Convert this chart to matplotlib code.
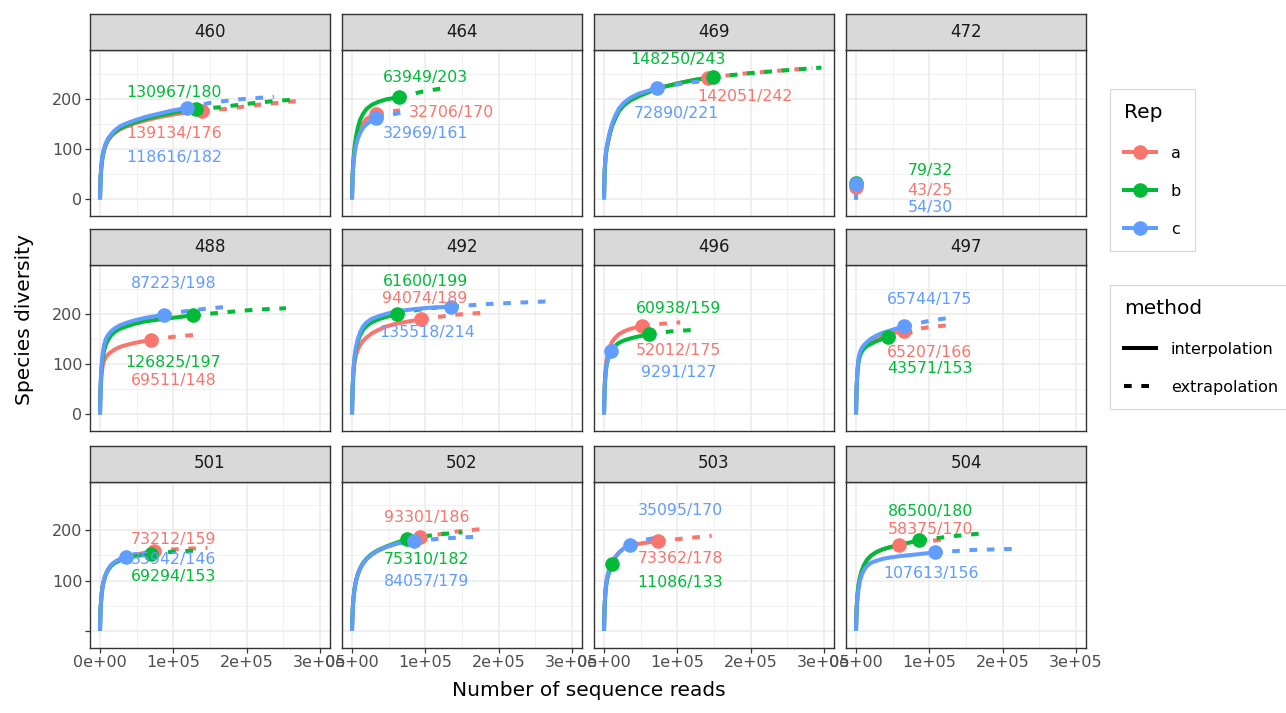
import matplotlib
matplotlib.use("Agg")
import matplotlib.pyplot as plt
from matplotlib.lines import Line2D

plt.rcParams['font.family'] = ['DejaVu Sans']

# ---------------- data ----------------
sites = ["460", "464", "469", "472", "488", "492", "496", "497", "501", "502", "503", "504"]
reps = ["a", "b", "c"]
rep_colors = ["#F8766D", "#00BA38", "#619CFF"]

reads_a = [139134, 32706, 142051, 43, 69511, 94074, 52012, 65207, 73212, 93301, 73362, 58375]
reads_b = [130967, 63949, 148250, 79, 126825, 61600, 60938, 43571, 69294, 75310, 11086, 86500]
reads_c = [118616, 32969, 72890, 54, 87223, 135518, 9291, 65744, 35942, 84057, 35095, 107613]
species_a = [176, 170, 242, 25, 148, 189, 175, 166, 159, 186, 178, 170]
species_b = [180, 203, 243, 32, 197, 199, 159, 153, 153, 182, 133, 180]
species_c = [182, 161, 221, 30, 198, 214, 127, 175, 146, 179, 170, 156]

# interpolated (rarefaction) curves: (reads, species)
interp_a = [
    ([0, 800, 2000, 3500, 5500, 8000, 11000, 15000, 20000, 27000, 36000, 47000, 62000, 82000, 105000, 139134],
     [0, 43, 67, 84, 97, 108, 117, 125, 132, 139, 145, 151, 157, 164, 170, 176]),
    ([0, 800, 2000, 3500, 5500, 8000, 11000, 15000, 20000, 26000, 32706],
     [0, 48, 76, 98, 115, 130, 142, 152, 160, 166, 170]),
    ([0, 800, 2000, 3500, 5500, 8000, 11000, 15000, 20000, 27000, 36000, 47000, 62000, 82000, 105000, 125000, 142051],
     [0, 53, 82, 100, 115, 131, 146, 160, 175, 187, 197, 205, 214, 224, 232, 238, 242]),
    ([0, 5, 15, 30, 43], [0, 5, 13, 20, 25]),
    ([0, 800, 2000, 3500, 5500, 8000, 11000, 15000, 20000, 27000, 36000, 47000, 58000, 69511],
     [0, 50, 78, 95, 107, 114, 119, 124, 129, 134, 138, 142, 145, 148]),
    ([0, 800, 2000, 3500, 5500, 8000, 11000, 15000, 20000, 27000, 36000, 47000, 62000, 78000, 94074],
     [0, 50, 82, 103, 118, 129, 138, 146, 153, 161, 168, 175, 181, 185, 189]),
    ([0, 800, 2000, 3500, 5500, 8000, 11000, 15000, 20000, 27000, 36000, 44000, 52012],
     [0, 55, 88, 108, 123, 135, 144, 152, 159, 165, 170, 173, 175]),
    ([0, 800, 2000, 3500, 5500, 8000, 11000, 15000, 20000, 27000, 36000, 47000, 56000, 65207],
     [0, 53, 87, 108, 120, 128, 134, 140, 145, 151, 156, 160, 163, 166]),
    ([0, 800, 2000, 3500, 5500, 8000, 11000, 15000, 20000, 27000, 36000, 47000, 60000, 73212],
     [0, 45, 70, 88, 102, 113, 122, 130, 136, 142, 147, 151, 155, 159]),
    ([0, 800, 2000, 3500, 5500, 8000, 11000, 15000, 20000, 27000, 36000, 47000, 62000, 78000, 93301],
     [0, 40, 65, 84, 100, 113, 124, 134, 143, 152, 160, 167, 174, 180, 186]),
    ([0, 800, 2000, 3500, 5500, 8000, 11000, 15000, 20000, 27000, 36000, 47000, 60000, 73362],
     [0, 50, 80, 100, 114, 125, 135, 146, 155, 164, 170, 173, 176, 178]),
    ([0, 800, 2000, 3500, 5500, 8000, 11000, 15000, 20000, 27000, 36000, 47000, 58375],
     [0, 45, 72, 92, 107, 120, 131, 141, 149, 156, 162, 166, 170]),
]
interp_b = [
    ([0, 800, 2000, 3500, 5500, 8000, 11000, 15000, 20000, 27000, 36000, 47000, 62000, 82000, 105000, 130967],
     [0, 44, 68, 85, 99, 110, 119, 127, 134, 141, 147, 153, 160, 167, 174, 180]),
    ([0, 800, 2000, 3500, 5500, 8000, 11000, 15000, 20000, 27000, 36000, 47000, 63949],
     [0, 50, 80, 105, 125, 143, 158, 170, 180, 188, 194, 199, 203]),
    ([0, 800, 2000, 3500, 5500, 8000, 11000, 15000, 20000, 27000, 36000, 47000, 62000, 82000, 105000, 125000, 148250],
     [0, 53, 82, 100, 115, 131, 146, 160, 175, 187, 197, 205, 214, 224, 232, 238, 243]),
    ([0, 5, 15, 40, 79], [0, 5, 13, 24, 32]),
    ([0, 800, 2000, 3500, 5500, 8000, 11000, 15000, 20000, 27000, 36000, 47000, 62000, 82000, 105000, 126825],
     [0, 55, 88, 110, 127, 139, 148, 157, 164, 170, 175, 180, 185, 189, 193, 197]),
    ([0, 800, 2000, 3500, 5500, 8000, 11000, 15000, 20000, 27000, 36000, 47000, 61600],
     [0, 53, 87, 111, 130, 145, 157, 168, 176, 183, 189, 194, 199]),
    ([0, 800, 2000, 3500, 5500, 8000, 11000, 15000, 20000, 27000, 36000, 47000, 60938],
     [0, 50, 80, 98, 110, 120, 128, 136, 142, 147, 151, 155, 159]),
    ([0, 800, 2000, 3500, 5500, 8000, 11000, 15000, 20000, 27000, 36000, 43571],
     [0, 52, 85, 105, 117, 125, 131, 136, 140, 145, 150, 153]),
    ([0, 800, 2000, 3500, 5500, 8000, 11000, 15000, 20000, 27000, 36000, 47000, 58000, 69294],
     [0, 45, 70, 88, 101, 112, 121, 129, 135, 140, 145, 148, 151, 153]),
    ([0, 800, 2000, 3500, 5500, 8000, 11000, 15000, 20000, 27000, 36000, 47000, 62000, 75310],
     [0, 40, 65, 84, 100, 113, 124, 135, 144, 153, 161, 168, 176, 182]),
    ([0, 800, 2000, 3500, 5500, 8000, 11086],
     [0, 48, 78, 97, 110, 121, 133]),
    ([0, 800, 2000, 3500, 5500, 8000, 11000, 15000, 20000, 27000, 36000, 47000, 62000, 86500],
     [0, 45, 72, 92, 107, 120, 131, 141, 149, 156, 162, 167, 172, 180]),
]
interp_c = [
    ([0, 800, 2000, 3500, 5500, 8000, 11000, 15000, 20000, 27000, 36000, 47000, 62000, 82000, 100000, 118616],
     [0, 45, 70, 88, 101, 112, 121, 129, 137, 145, 151, 157, 164, 171, 177, 182]),
    ([0, 800, 2000, 3500, 5500, 8000, 11000, 15000, 20000, 26000, 32969],
     [0, 45, 72, 92, 108, 121, 132, 142, 150, 156, 161]),
    ([0, 800, 2000, 3500, 5500, 8000, 11000, 15000, 20000, 27000, 36000, 47000, 60000, 72890],
     [0, 55, 85, 103, 118, 135, 150, 165, 180, 192, 202, 210, 216, 221]),
    ([0, 5, 15, 30, 54], [0, 5, 13, 21, 30]),
    ([0, 800, 2000, 3500, 5500, 8000, 11000, 15000, 20000, 27000, 36000, 47000, 62000, 87223],
     [0, 60, 95, 120, 138, 150, 158, 165, 171, 177, 182, 187, 192, 198]),
    ([0, 800, 2000, 3500, 5500, 8000, 11000, 15000, 20000, 27000, 36000, 47000, 62000, 83000, 105000, 135518],
     [0, 55, 90, 115, 135, 150, 163, 175, 183, 190, 195, 200, 205, 209, 212, 214]),
    ([0, 800, 2000, 3500, 5500, 7500, 9291],
     [0, 50, 80, 98, 110, 120, 127]),
    ([0, 800, 2000, 3500, 5500, 8000, 11000, 15000, 20000, 27000, 36000, 47000, 56000, 65744],
     [0, 55, 90, 112, 124, 132, 138, 144, 150, 156, 162, 167, 171, 175]),
    ([0, 800, 2000, 3500, 5500, 8000, 11000, 15000, 20000, 27000, 35942],
     [0, 45, 70, 88, 102, 113, 122, 131, 137, 143, 146]),
    ([0, 800, 2000, 3500, 5500, 8000, 11000, 15000, 20000, 27000, 36000, 47000, 62000, 84057],
     [0, 40, 65, 84, 100, 113, 124, 134, 143, 152, 160, 167, 174, 179]),
    ([0, 800, 2000, 3500, 5500, 8000, 11000, 15000, 20000, 27000, 35095],
     [0, 50, 80, 100, 114, 125, 135, 146, 155, 164, 170]),
    ([0, 800, 2000, 3500, 5500, 8000, 11000, 15000, 20000, 27000, 36000, 47000, 62000, 82000, 107613],
     [0, 40, 65, 84, 100, 112, 121, 129, 135, 139, 143, 146, 149, 152, 156]),
]

# extrapolated curves (observed reads up to twice the reads)
extrap_a = [
    ([139134, 173000, 209000, 250000, 278268], [176, 180, 187, 193, 197]),
    ([32706, 49000, 65412], [170, 174, 177]),
    ([142051, 190000, 240000, 284102], [242, 250, 256, 261]),
    ([43, 86], [25, 31]),
    ([69511, 104000, 139022], [148, 155, 159]),
    ([94074, 140000, 188148], [189, 198, 203]),
    ([52012, 78000, 104024], [175, 180, 183]),
    ([65207, 98000, 130414], [166, 173, 178]),
    ([73212, 110000, 146424], [159, 163, 165]),
    ([93301, 140000, 186602], [186, 197, 204]),
    ([73362, 110000, 146724], [178, 184, 189]),
    ([58375, 87000, 116750], [170, 177, 181]),
]
extrap_b = [
    ([130967, 163000, 200000, 241000, 261934], [180, 183, 190, 196, 198]),
    ([63949, 95000, 127898], [203, 214, 222]),
    ([148250, 200000, 250000, 296500], [243, 251, 257, 262]),
    ([79, 158], [32, 38]),
    ([126825, 170000, 210000, 253650], [197, 203, 208, 211]),
    ([61600, 90000, 123200], [199, 208, 214]),
    ([60938, 91000, 121876], [159, 165, 168]),
    ([43571, 65000, 87142], [153, 161, 166]),
    ([69294, 104000, 138588], [153, 158, 160]),
    ([75310, 112000, 150620], [182, 191, 196]),
    ([11086, 16600, 22172], [133, 143, 150]),
    ([86500, 130000, 173000], [180, 188, 194]),
]
extrap_c = [
    ([118616, 150000, 190000, 237232], [182, 192, 199, 204]),
    ([32969, 49000, 65938], [161, 167, 172]),
    ([72890, 110000, 145780], [221, 231, 237]),
    ([54, 108], [30, 36]),
    ([87223, 120000, 150000, 174446], [198, 206, 211, 214]),
    ([135518, 180000, 225000, 271036], [214, 219, 222, 225]),
    ([9291, 18582], [127, 140]),
    ([65744, 100000, 131488], [175, 186, 193]),
    ([35942, 54000, 71884], [146, 150, 153]),
    ([84057, 126000, 168114], [179, 184, 187]),
    ([35095, 52000, 70190], [170, 180, 185]),
    ([107613, 160000, 215226], [156, 161, 163]),
]

# label anchor positions (data units) for reps a, b, c
label_a = [(101400, 131), (136000, 173), (192900, 205), (100900, 18), (100000, 67), (99600, 231),
           (101400, 127), (100900, 124), (100000, 182), (101900, 225), (103700, 144), (101000, 201)]
label_b = [(101400, 213), (100500, 243), (101500, 279), (100900, 58), (100000, 104), (99600, 265),
           (101400, 211), (100900, 91), (100000, 109), (101900, 141), (103700, 97), (101000, 238)]
label_c = [(101400, 84), (99600, 131), (99200, 170), (100900, -16), (100000, 260), (101900, 163),
           (101400, 83), (100900, 229), (100000, 141), (101900, 99), (103700, 239), (102300, 114)]

x_ticks = [0, 100000, 200000, 300000]
x_tick_labels = ["0e+00", "1e+05", "2e+05", "3e+05"]
y_ticks = [0, 100, 200]

# ---------------- layout ----------------
W, H = 1286, 713
fig = plt.figure(figsize=(W / 100, H / 100), dpi=100)
col_left = [90, 342, 594, 846]
row_top = [50, 265, 481.5]
pw, ph, sh = 240, 166, 36


def fbox(l, t, w, h):
    return [l / W, 1 - (t + h) / H, w / W, h / H]


LW = 2.9
DASH = (0, (1.9, 2.4))
border = "#333333"

for i, site in enumerate(sites):
    r, c = divmod(i, 4)
    ax = fig.add_axes(fbox(col_left[c], row_top[r], pw, ph))
    ax.set_xlim(-13640, 313700)
    ax.set_ylim(-33, 297)
    ax.set_xticks(x_ticks)
    ax.set_xticks([50000, 150000, 250000], minor=True)
    ax.set_yticks(y_ticks)
    ax.set_yticks([50, 150, 250], minor=True)
    ax.grid(which="major", color="#EBEBEB", lw=1.1)
    ax.grid(which="minor", color="#EFEFEF", lw=0.6)
    ax.set_axisbelow(True)
    for sp in ax.spines.values():
        sp.set_color(border)
        sp.set_linewidth(1.0)
    ax.tick_params(which="minor", length=0)
    ax.tick_params(which="major", length=3.5, width=0.9, color=border,
                   labelcolor="#4D4D4D", labelsize=11.5, pad=2)
    if r == 2:
        ax.set_xticklabels(x_tick_labels)
    else:
        ax.tick_params(axis="x", length=0, labelbottom=False)
    if c == 0:
        ax.set_yticklabels(["", "100", "200"] if r == 2 else ["0", "100", "200"])
    else:
        ax.tick_params(axis="y", length=0, labelleft=False)

    interp = [interp_a[i], interp_b[i], interp_c[i]]
    extrap = [extrap_a[i], extrap_b[i], extrap_c[i]]
    for k in range(3):
        ax.plot(interp[k][0], interp[k][1], color=rep_colors[k], lw=LW,
                solid_capstyle="butt", solid_joinstyle="round", zorder=2)
        ax.plot(extrap[k][0], extrap[k][1], color=rep_colors[k], lw=LW,
                ls=DASH, dash_capstyle="butt", zorder=2)
    pts_x = [reads_a[i], reads_b[i], reads_c[i]]
    pts_y = [species_a[i], species_b[i], species_c[i]]
    for k in range(3):
        ax.plot([pts_x[k]], [pts_y[k]], "o", ms=10.5, color=rep_colors[k],
                markeredgewidth=0, zorder=3)
    labs = [label_a[i], label_b[i], label_c[i]]
    for k in range(3):
        ax.text(labs[k][0], labs[k][1], f"{pts_x[k]}/{pts_y[k]}", color=rep_colors[k],
                fontsize=11.3, ha="center", va="center", zorder=4, clip_on=True)

    sax = fig.add_axes(fbox(col_left[c], row_top[r] - sh, pw, sh))
    sax.set_facecolor("#D9D9D9")
    sax.set_xticks([])
    sax.set_yticks([])
    for sp in sax.spines.values():
        sp.set_color(border)
        sp.set_linewidth(1.0)
    sax.text(0.5, 0.5, site, ha="center", va="center", fontsize=12,
             color="#1A1A1A", transform=sax.transAxes)

fig.text(25 / W, 1 - 320 / H, "Species diversity", rotation=90, ha="center",
         va="center", fontsize=14.5)
fig.text(589 / W, 1 - 690 / H, "Number of sequence reads", ha="center",
         va="center", fontsize=14.5)

# ---------------- legends ----------------
rep_handles = [Line2D([], [], color=rep_colors[k], lw=LW, marker="o", ms=10.5,
                      markeredgewidth=0) for k in range(3)]
leg1 = fig.legend(rep_handles, reps, title="Rep", loc="upper left",
                  bbox_to_anchor=(1110 / W, 1 - 89 / H), borderaxespad=0,
                  frameon=True, fancybox=False, edgecolor="#CCCCCC",
                  fontsize=11.5, title_fontsize=14.5, handlelength=2.0,
                  handletextpad=0.9, labelspacing=1.45, borderpad=0.9,
                  alignment="left")
leg1.get_frame().set_linewidth(0.8)

method_handles = [Line2D([], [], color="black", lw=LW),
                  Line2D([], [], color="black", lw=LW, ls=DASH)]
leg2 = fig.legend(method_handles, ["interpolation", "extrapolation"], title="method",
                  loc="upper left", bbox_to_anchor=(1110 / W, 1 - 285 / H),
                  borderaxespad=0, frameon=True, fancybox=False, edgecolor="#CCCCCC",
                  fontsize=11.5, title_fontsize=14.5, handlelength=2.0,
                  handletextpad=0.9, labelspacing=1.45, borderpad=0.9,
                  alignment="left")
leg2.get_frame().set_linewidth(0.8)

fig.savefig("out.png", dpi=100)
